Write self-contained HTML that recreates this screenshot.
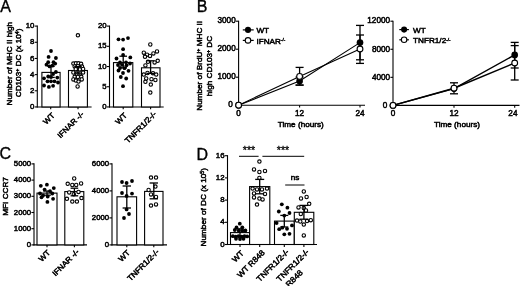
<!DOCTYPE html>
<html><head><meta charset="utf-8"><title>Figure</title>
<style>
html,body{margin:0;padding:0;background:#fff;}
svg{display:block;}
text{font-family:"Liberation Sans",Arial,sans-serif;fill:#000;stroke:#000;stroke-width:0.5px;}
</style></head>
<body>
<svg width="520" height="286" viewBox="0 0 520 286">
<rect width="520" height="286" fill="#fff"/>
<text transform="translate(0.30,11.70) scale(1,1)" font-size="16.000" text-anchor="start" style="stroke-width:0.35px">A</text>
<text transform="translate(196.80,11.70) scale(1,1)" font-size="16.000" text-anchor="start" style="stroke-width:0.35px">B</text>
<text transform="translate(-0.40,159.20) scale(1,1)" font-size="16.000" text-anchor="start" style="stroke-width:0.35px">C</text>
<text transform="translate(196.40,159.50) scale(1,1)" font-size="16.000" text-anchor="start" style="stroke-width:0.35px">D</text>
<line x1="37.30" y1="25.55" x2="37.30" y2="107.50" stroke="#000" stroke-width="1.1" />
<line x1="34.70" y1="106.95" x2="37.30" y2="106.95" stroke="#000" stroke-width="1.1" />
<text transform="translate(34.40,109.04) scale(1.0,1)" font-size="7.800" text-anchor="end" >0</text>
<line x1="34.70" y1="90.78" x2="37.30" y2="90.78" stroke="#000" stroke-width="1.1" />
<text transform="translate(34.40,92.87) scale(1.0,1)" font-size="7.800" text-anchor="end" >2</text>
<line x1="34.70" y1="74.61" x2="37.30" y2="74.61" stroke="#000" stroke-width="1.1" />
<text transform="translate(34.40,76.70) scale(1.0,1)" font-size="7.800" text-anchor="end" >4</text>
<line x1="34.70" y1="58.44" x2="37.30" y2="58.44" stroke="#000" stroke-width="1.1" />
<text transform="translate(34.40,60.53) scale(1.0,1)" font-size="7.800" text-anchor="end" >6</text>
<line x1="34.70" y1="42.27" x2="37.30" y2="42.27" stroke="#000" stroke-width="1.1" />
<text transform="translate(34.40,44.36) scale(1.0,1)" font-size="7.800" text-anchor="end" >8</text>
<line x1="34.70" y1="26.10" x2="37.30" y2="26.10" stroke="#000" stroke-width="1.1" />
<text transform="translate(34.40,28.19) scale(1.0,1)" font-size="7.800" text-anchor="end" >10</text>
<line x1="36.80" y1="106.95" x2="91.60" y2="106.95" stroke="#000" stroke-width="1.1" />
<line x1="50.70" y1="106.95" x2="50.70" y2="109.35" stroke="#000" stroke-width="1.1" />
<line x1="78.00" y1="106.95" x2="78.00" y2="109.35" stroke="#000" stroke-width="1.1" />
<rect x="41.90" y="72.40" width="18.20" height="34.55" fill="#fff" stroke="#000" stroke-width="1.1"/>
<rect x="68.50" y="70.50" width="18.90" height="36.45" fill="#fff" stroke="#000" stroke-width="1.1"/>
<circle cx="51.00" cy="51.00" r="1.9" fill="#000"/>
<circle cx="48.60" cy="56.90" r="1.9" fill="#000"/>
<circle cx="55.90" cy="58.00" r="1.9" fill="#000"/>
<circle cx="48.20" cy="62.20" r="1.9" fill="#000"/>
<circle cx="53.50" cy="62.20" r="1.9" fill="#000"/>
<circle cx="46.50" cy="64.70" r="1.9" fill="#000"/>
<circle cx="55.20" cy="63.60" r="1.9" fill="#000"/>
<circle cx="49.60" cy="66.40" r="1.9" fill="#000"/>
<circle cx="52.40" cy="65.70" r="1.9" fill="#000"/>
<circle cx="55.90" cy="72.00" r="1.9" fill="#000"/>
<circle cx="53.10" cy="74.10" r="1.9" fill="#000"/>
<circle cx="48.20" cy="76.50" r="1.9" fill="#000"/>
<circle cx="44.00" cy="78.30" r="1.9" fill="#000"/>
<circle cx="57.30" cy="77.60" r="1.9" fill="#000"/>
<circle cx="51.00" cy="77.00" r="1.9" fill="#000"/>
<circle cx="47.50" cy="81.30" r="1.9" fill="#000"/>
<circle cx="51.00" cy="81.30" r="1.9" fill="#000"/>
<circle cx="54.50" cy="81.30" r="1.9" fill="#000"/>
<circle cx="58.00" cy="82.50" r="1.9" fill="#000"/>
<circle cx="44.00" cy="85.50" r="1.9" fill="#000"/>
<circle cx="48.90" cy="86.90" r="1.9" fill="#000"/>
<circle cx="53.10" cy="85.80" r="1.9" fill="#000"/>
<circle cx="77.90" cy="35.30" r="1.7" fill="#fff" stroke="#000" stroke-width="1.1"/>
<circle cx="73.37" cy="63.60" r="1.7" fill="#fff" stroke="#000" stroke-width="1.1"/>
<circle cx="75.94" cy="63.30" r="1.7" fill="#fff" stroke="#000" stroke-width="1.1"/>
<circle cx="78.52" cy="63.30" r="1.7" fill="#fff" stroke="#000" stroke-width="1.1"/>
<circle cx="81.10" cy="63.80" r="1.7" fill="#fff" stroke="#000" stroke-width="1.1"/>
<circle cx="74.66" cy="66.40" r="1.7" fill="#fff" stroke="#000" stroke-width="1.1"/>
<circle cx="77.88" cy="66.20" r="1.7" fill="#fff" stroke="#000" stroke-width="1.1"/>
<circle cx="82.02" cy="66.60" r="1.7" fill="#fff" stroke="#000" stroke-width="1.1"/>
<circle cx="75.76" cy="69.20" r="1.7" fill="#fff" stroke="#000" stroke-width="1.1"/>
<circle cx="79.81" cy="69.40" r="1.7" fill="#fff" stroke="#000" stroke-width="1.1"/>
<circle cx="83.12" cy="69.00" r="1.7" fill="#fff" stroke="#000" stroke-width="1.1"/>
<circle cx="73.37" cy="72.50" r="1.7" fill="#fff" stroke="#000" stroke-width="1.1"/>
<circle cx="76.59" cy="73.60" r="1.7" fill="#fff" stroke="#000" stroke-width="1.1"/>
<circle cx="80.36" cy="73.40" r="1.7" fill="#fff" stroke="#000" stroke-width="1.1"/>
<circle cx="83.12" cy="72.60" r="1.7" fill="#fff" stroke="#000" stroke-width="1.1"/>
<circle cx="74.66" cy="76.80" r="1.7" fill="#fff" stroke="#000" stroke-width="1.1"/>
<circle cx="77.88" cy="77.00" r="1.7" fill="#fff" stroke="#000" stroke-width="1.1"/>
<circle cx="81.28" cy="76.80" r="1.7" fill="#fff" stroke="#000" stroke-width="1.1"/>
<circle cx="73.37" cy="79.40" r="1.7" fill="#fff" stroke="#000" stroke-width="1.1"/>
<circle cx="75.94" cy="80.60" r="1.7" fill="#fff" stroke="#000" stroke-width="1.1"/>
<circle cx="78.52" cy="81.60" r="1.7" fill="#fff" stroke="#000" stroke-width="1.1"/>
<circle cx="81.74" cy="79.40" r="1.7" fill="#fff" stroke="#000" stroke-width="1.1"/>
<circle cx="77.60" cy="86.50" r="1.7" fill="#fff" stroke="#000" stroke-width="1.1"/>
<line x1="51.00" y1="66.20" x2="51.00" y2="77.40" stroke="#000" stroke-width="1.3" />
<line x1="47.20" y1="66.20" x2="54.80" y2="66.20" stroke="#000" stroke-width="1.3" />
<line x1="47.20" y1="77.40" x2="54.80" y2="77.40" stroke="#000" stroke-width="1.3" />
<line x1="78.00" y1="66.60" x2="78.00" y2="73.20" stroke="#000" stroke-width="1.3" />
<line x1="74.20" y1="66.60" x2="81.80" y2="66.60" stroke="#000" stroke-width="1.3" />
<line x1="74.20" y1="73.20" x2="81.80" y2="73.20" stroke="#000" stroke-width="1.3" />
<text transform="translate(55.20,115.90) rotate(-45) scale(1.055,1)" font-size="7.820" text-anchor="end">WT</text>
<text transform="translate(84.40,114.60) rotate(-45) scale(1.055,1)" font-size="7.583" text-anchor="end">IFNAR -/-</text>
<text transform="translate(11.8,63.65) rotate(-90) scale(1.055,1)" font-size="7.773" text-anchor="middle">Number of MHC II high</text>
<text transform="translate(21.1,62.9) rotate(-90) scale(1.055,1)" font-size="7.773" text-anchor="middle">CD103<tspan font-size="5.0" dy="-2.3">+</tspan><tspan dy="2.3" font-size="1">&#8203;</tspan> DC (x 10<tspan font-size="5.0" dy="-2.3">4</tspan><tspan dy="2.3" font-size="1">&#8203;</tspan>)</text>
<line x1="109.50" y1="25.55" x2="109.50" y2="107.50" stroke="#000" stroke-width="1.1" />
<line x1="106.90" y1="106.95" x2="109.50" y2="106.95" stroke="#000" stroke-width="1.1" />
<text transform="translate(106.60,109.04) scale(1.0,1)" font-size="7.800" text-anchor="end" >0</text>
<line x1="106.90" y1="86.74" x2="109.50" y2="86.74" stroke="#000" stroke-width="1.1" />
<text transform="translate(106.60,88.83) scale(1.0,1)" font-size="7.800" text-anchor="end" >5</text>
<line x1="106.90" y1="66.53" x2="109.50" y2="66.53" stroke="#000" stroke-width="1.1" />
<text transform="translate(106.60,68.62) scale(1.0,1)" font-size="7.800" text-anchor="end" >10</text>
<line x1="106.90" y1="46.31" x2="109.50" y2="46.31" stroke="#000" stroke-width="1.1" />
<text transform="translate(106.60,48.40) scale(1.0,1)" font-size="7.800" text-anchor="end" >15</text>
<line x1="106.90" y1="26.10" x2="109.50" y2="26.10" stroke="#000" stroke-width="1.1" />
<text transform="translate(106.60,28.19) scale(1.0,1)" font-size="7.800" text-anchor="end" >20</text>
<line x1="109.00" y1="106.95" x2="163.70" y2="106.95" stroke="#000" stroke-width="1.1" />
<line x1="123.20" y1="106.95" x2="123.20" y2="109.35" stroke="#000" stroke-width="1.1" />
<line x1="150.60" y1="106.95" x2="150.60" y2="109.35" stroke="#000" stroke-width="1.1" />
<rect x="113.50" y="62.60" width="19.30" height="44.35" fill="#fff" stroke="#000" stroke-width="1.1"/>
<rect x="141.50" y="67.80" width="18.50" height="39.15" fill="#fff" stroke="#000" stroke-width="1.1"/>
<circle cx="118.50" cy="39.30" r="1.9" fill="#000"/>
<circle cx="123.10" cy="39.60" r="1.9" fill="#000"/>
<circle cx="128.00" cy="38.10" r="1.9" fill="#000"/>
<circle cx="123.10" cy="49.20" r="1.9" fill="#000"/>
<circle cx="116.50" cy="58.50" r="1.9" fill="#000"/>
<circle cx="130.30" cy="57.40" r="1.9" fill="#000"/>
<circle cx="123.10" cy="55.00" r="1.9" fill="#000"/>
<circle cx="120.00" cy="62.50" r="1.9" fill="#000"/>
<circle cx="126.00" cy="62.30" r="1.9" fill="#000"/>
<circle cx="118.00" cy="65.00" r="1.9" fill="#000"/>
<circle cx="122.00" cy="64.80" r="1.9" fill="#000"/>
<circle cx="126.50" cy="65.30" r="1.9" fill="#000"/>
<circle cx="130.00" cy="63.50" r="1.9" fill="#000"/>
<circle cx="120.00" cy="68.00" r="1.9" fill="#000"/>
<circle cx="124.50" cy="68.20" r="1.9" fill="#000"/>
<circle cx="118.50" cy="70.50" r="1.9" fill="#000"/>
<circle cx="128.50" cy="70.80" r="1.9" fill="#000"/>
<circle cx="123.00" cy="73.00" r="1.9" fill="#000"/>
<circle cx="120.80" cy="77.00" r="1.9" fill="#000"/>
<circle cx="126.20" cy="78.50" r="1.9" fill="#000"/>
<circle cx="123.00" cy="86.20" r="1.9" fill="#000"/>
<circle cx="150.30" cy="44.50" r="1.7" fill="#fff" stroke="#000" stroke-width="1.1"/>
<circle cx="143.80" cy="52.70" r="1.7" fill="#fff" stroke="#000" stroke-width="1.1"/>
<circle cx="157.00" cy="51.40" r="1.7" fill="#fff" stroke="#000" stroke-width="1.1"/>
<circle cx="147.00" cy="54.70" r="1.7" fill="#fff" stroke="#000" stroke-width="1.1"/>
<circle cx="153.40" cy="53.40" r="1.7" fill="#fff" stroke="#000" stroke-width="1.1"/>
<circle cx="150.00" cy="55.90" r="1.7" fill="#fff" stroke="#000" stroke-width="1.1"/>
<circle cx="145.00" cy="56.80" r="1.7" fill="#fff" stroke="#000" stroke-width="1.1"/>
<circle cx="157.70" cy="60.80" r="1.7" fill="#fff" stroke="#000" stroke-width="1.1"/>
<circle cx="154.60" cy="62.40" r="1.7" fill="#fff" stroke="#000" stroke-width="1.1"/>
<circle cx="145.40" cy="65.40" r="1.7" fill="#fff" stroke="#000" stroke-width="1.1"/>
<circle cx="148.00" cy="61.80" r="1.7" fill="#fff" stroke="#000" stroke-width="1.1"/>
<circle cx="143.80" cy="74.60" r="1.7" fill="#fff" stroke="#000" stroke-width="1.1"/>
<circle cx="156.20" cy="74.60" r="1.7" fill="#fff" stroke="#000" stroke-width="1.1"/>
<circle cx="147.50" cy="73.00" r="1.7" fill="#fff" stroke="#000" stroke-width="1.1"/>
<circle cx="153.00" cy="73.20" r="1.7" fill="#fff" stroke="#000" stroke-width="1.1"/>
<circle cx="146.20" cy="78.50" r="1.7" fill="#fff" stroke="#000" stroke-width="1.1"/>
<circle cx="151.50" cy="79.20" r="1.7" fill="#fff" stroke="#000" stroke-width="1.1"/>
<circle cx="155.40" cy="80.00" r="1.7" fill="#fff" stroke="#000" stroke-width="1.1"/>
<circle cx="145.40" cy="81.80" r="1.7" fill="#fff" stroke="#000" stroke-width="1.1"/>
<circle cx="150.80" cy="84.60" r="1.7" fill="#fff" stroke="#000" stroke-width="1.1"/>
<circle cx="150.30" cy="92.60" r="1.7" fill="#fff" stroke="#000" stroke-width="1.1"/>
<line x1="123.20" y1="56.20" x2="123.20" y2="67.80" stroke="#000" stroke-width="1.3" />
<line x1="119.40" y1="56.20" x2="127.00" y2="56.20" stroke="#000" stroke-width="1.3" />
<line x1="119.40" y1="67.80" x2="127.00" y2="67.80" stroke="#000" stroke-width="1.3" />
<line x1="150.60" y1="60.80" x2="150.60" y2="73.40" stroke="#000" stroke-width="1.3" />
<line x1="146.80" y1="60.80" x2="154.40" y2="60.80" stroke="#000" stroke-width="1.3" />
<line x1="146.80" y1="73.40" x2="154.40" y2="73.40" stroke="#000" stroke-width="1.3" />
<text transform="translate(127.60,115.90) rotate(-45) scale(1.055,1)" font-size="7.820" text-anchor="end">WT</text>
<text transform="translate(157.00,114.60) rotate(-45) scale(1.055,1)" font-size="7.820" text-anchor="end">TNFR1/2-/-</text>
<line x1="238.60" y1="20.65" x2="238.60" y2="105.75" stroke="#000" stroke-width="1.1" />
<line x1="236.00" y1="105.20" x2="238.60" y2="105.20" stroke="#000" stroke-width="1.1" />
<text transform="translate(232.90,107.44) scale(1.0,1)" font-size="8.200" text-anchor="end" >0</text>
<line x1="236.00" y1="77.20" x2="238.60" y2="77.20" stroke="#000" stroke-width="1.1" />
<text transform="translate(235.70,79.44) scale(1.0,1)" font-size="8.200" text-anchor="end" >1000</text>
<line x1="236.00" y1="49.20" x2="238.60" y2="49.20" stroke="#000" stroke-width="1.1" />
<text transform="translate(235.70,51.44) scale(1.0,1)" font-size="8.200" text-anchor="end" >2000</text>
<line x1="236.00" y1="21.20" x2="238.60" y2="21.20" stroke="#000" stroke-width="1.1" />
<text transform="translate(235.70,23.44) scale(1.0,1)" font-size="8.200" text-anchor="end" >3000</text>
<line x1="238.10" y1="105.20" x2="365.00" y2="105.20" stroke="#000" stroke-width="1.1" />
<line x1="299.60" y1="105.20" x2="299.60" y2="107.60" stroke="#000" stroke-width="1.1" />
<line x1="360.00" y1="105.20" x2="360.00" y2="107.60" stroke="#000" stroke-width="1.1" />
<text transform="translate(238.60,116.30) scale(1.0,1)" font-size="8.200" text-anchor="middle" >0</text>
<text transform="translate(299.60,116.30) scale(1.0,1)" font-size="8.200" text-anchor="middle" >12</text>
<text transform="translate(360.00,116.30) scale(1.0,1)" font-size="8.200" text-anchor="middle" >24</text>
<text transform="translate(300.80,127.20) scale(1.055,1)" font-size="7.773" text-anchor="middle" >Time (hours)</text>
<line x1="360.00" y1="25.40" x2="360.00" y2="59.80" stroke="#000" stroke-width="1.3" />
<line x1="356.00" y1="25.40" x2="364.00" y2="25.40" stroke="#000" stroke-width="1.3" />
<line x1="356.00" y1="59.80" x2="364.00" y2="59.80" stroke="#000" stroke-width="1.3" />
<line x1="360.00" y1="35.00" x2="360.00" y2="63.40" stroke="#000" stroke-width="1.3" />
<line x1="356.00" y1="35.00" x2="364.00" y2="35.00" stroke="#000" stroke-width="1.3" />
<line x1="356.00" y1="63.40" x2="364.00" y2="63.40" stroke="#000" stroke-width="1.3" />
<line x1="299.60" y1="67.40" x2="299.60" y2="85.20" stroke="#000" stroke-width="1.3" />
<line x1="295.60" y1="67.40" x2="303.60" y2="67.40" stroke="#000" stroke-width="1.3" />
<line x1="295.60" y1="85.20" x2="303.60" y2="85.20" stroke="#000" stroke-width="1.3" />
<line x1="299.60" y1="77.00" x2="299.60" y2="85.00" stroke="#000" stroke-width="1.3" />
<line x1="295.60" y1="77.00" x2="303.60" y2="77.00" stroke="#000" stroke-width="1.3" />
<line x1="295.60" y1="85.00" x2="303.60" y2="85.00" stroke="#000" stroke-width="1.3" />
<polyline points="238.6,105.2 299.6,81 360,42.6" fill="none" stroke="#000" stroke-width="1.1"/>
<polyline points="238.6,105.2 299.6,76.4 360,49" fill="none" stroke="#000" stroke-width="1.1"/>
<circle cx="238.6" cy="105.2" r="3.35" fill="#000"/>
<circle cx="299.6" cy="81" r="3.35" fill="#000"/>
<circle cx="360" cy="42.6" r="3.35" fill="#000"/>
<circle cx="238.6" cy="105.2" r="2.9" fill="#fff" stroke="#000" stroke-width="1.1"/>
<circle cx="299.6" cy="76.4" r="2.9" fill="#fff" stroke="#000" stroke-width="1.1"/>
<circle cx="360" cy="49" r="2.9" fill="#fff" stroke="#000" stroke-width="1.1"/>
<line x1="242.80" y1="29.90" x2="253.70" y2="29.90" stroke="#000" stroke-width="1.2" />
<circle cx="248" cy="29.9" r="3.05" fill="#000"/>
<line x1="242.80" y1="40.40" x2="253.70" y2="40.40" stroke="#000" stroke-width="1.2" />
<circle cx="248" cy="40.4" r="2.75" fill="#fff" stroke="#000" stroke-width="1.1"/>
<text transform="translate(256.40,32.90) scale(1.055,1)" font-size="7.773" text-anchor="start" >WT</text>
<text transform="translate(256.40,43.50) scale(1.055,1)" font-size="7.773" text-anchor="start" >IFNAR<tspan font-size="4.3" dy="-2.3">-/-</tspan><tspan dy="2.3" font-size="1">&#8203;</tspan></text>
<text transform="translate(201.9,65.8) rotate(-90) scale(1.055,1)" font-size="7.773" text-anchor="middle">Number of BrdU<tspan font-size="5.0" dy="-2.3">+</tspan><tspan dy="2.3" font-size="1">&#8203;</tspan> MHC II</text>
<text transform="translate(212.2,66.0) rotate(-90) scale(1.055,1)" font-size="7.773" text-anchor="middle">high CD103<tspan font-size="5.0" dy="-2.3">+</tspan><tspan dy="2.3" font-size="1">&#8203;</tspan> DC</text>
<line x1="393.00" y1="20.65" x2="393.00" y2="105.95" stroke="#000" stroke-width="1.1" />
<line x1="390.40" y1="105.40" x2="393.00" y2="105.40" stroke="#000" stroke-width="1.1" />
<text transform="translate(387.30,107.64) scale(1.0,1)" font-size="8.200" text-anchor="end" >0</text>
<line x1="390.40" y1="77.33" x2="393.00" y2="77.33" stroke="#000" stroke-width="1.1" />
<text transform="translate(390.10,79.57) scale(1.0,1)" font-size="8.200" text-anchor="end" >4000</text>
<line x1="390.40" y1="49.27" x2="393.00" y2="49.27" stroke="#000" stroke-width="1.1" />
<text transform="translate(390.10,51.50) scale(1.0,1)" font-size="8.200" text-anchor="end" >8000</text>
<line x1="390.40" y1="21.20" x2="393.00" y2="21.20" stroke="#000" stroke-width="1.1" />
<text transform="translate(390.10,23.44) scale(1.0,1)" font-size="8.200" text-anchor="end" >12000</text>
<line x1="392.50" y1="105.40" x2="519.50" y2="105.40" stroke="#000" stroke-width="1.1" />
<line x1="454.00" y1="105.40" x2="454.00" y2="107.80" stroke="#000" stroke-width="1.1" />
<line x1="514.70" y1="105.40" x2="514.70" y2="107.80" stroke="#000" stroke-width="1.1" />
<text transform="translate(393.00,116.30) scale(1.0,1)" font-size="8.200" text-anchor="middle" >0</text>
<text transform="translate(454.00,116.30) scale(1.0,1)" font-size="8.200" text-anchor="middle" >12</text>
<text transform="translate(512.90,116.30) scale(1.0,1)" font-size="8.200" text-anchor="middle" >24</text>
<text transform="translate(457.00,127.20) scale(1.055,1)" font-size="7.773" text-anchor="middle" >Time (hours)</text>
<line x1="514.70" y1="42.40" x2="514.70" y2="68.00" stroke="#000" stroke-width="1.3" />
<line x1="510.70" y1="42.40" x2="518.70" y2="42.40" stroke="#000" stroke-width="1.3" />
<line x1="510.70" y1="68.00" x2="518.70" y2="68.00" stroke="#000" stroke-width="1.3" />
<line x1="514.70" y1="45.60" x2="514.70" y2="80.00" stroke="#000" stroke-width="1.3" />
<line x1="510.70" y1="45.60" x2="518.70" y2="45.60" stroke="#000" stroke-width="1.3" />
<line x1="510.70" y1="80.00" x2="518.70" y2="80.00" stroke="#000" stroke-width="1.3" />
<line x1="454.00" y1="82.80" x2="454.00" y2="93.80" stroke="#000" stroke-width="1.3" />
<line x1="450.00" y1="82.80" x2="458.00" y2="82.80" stroke="#000" stroke-width="1.3" />
<line x1="450.00" y1="93.80" x2="458.00" y2="93.80" stroke="#000" stroke-width="1.3" />
<polyline points="393,105.4 454,88.6 514.7,54.9" fill="none" stroke="#000" stroke-width="1.5"/>
<polyline points="393,105.4 454,88.2 514.7,63.0" fill="none" stroke="#000" stroke-width="1.5"/>
<circle cx="393" cy="105.4" r="3.35" fill="#000"/>
<circle cx="454" cy="88.6" r="3.35" fill="#000"/>
<circle cx="514.7" cy="54.9" r="3.35" fill="#000"/>
<circle cx="393" cy="105.4" r="2.9" fill="#fff" stroke="#000" stroke-width="1.1"/>
<circle cx="454" cy="88.2" r="2.9" fill="#fff" stroke="#000" stroke-width="1.1"/>
<circle cx="514.7" cy="63.0" r="2.9" fill="#fff" stroke="#000" stroke-width="1.1"/>
<line x1="399.30" y1="29.60" x2="408.90" y2="29.60" stroke="#000" stroke-width="1.2" />
<circle cx="404.1" cy="29.6" r="3.05" fill="#000"/>
<line x1="399.30" y1="39.80" x2="408.90" y2="39.80" stroke="#000" stroke-width="1.2" />
<circle cx="404.1" cy="39.8" r="2.75" fill="#fff" stroke="#000" stroke-width="1.1"/>
<text transform="translate(413.00,32.60) scale(1.055,1)" font-size="7.773" text-anchor="start" >WT</text>
<text transform="translate(413.00,43.00) scale(1.055,1)" font-size="7.773" text-anchor="start" >TNFR1/2<tspan font-size="4.3" dy="-2.3">-/-</tspan><tspan dy="2.3" font-size="1">&#8203;</tspan></text>
<line x1="34.00" y1="163.35" x2="34.00" y2="245.45" stroke="#000" stroke-width="1.1" />
<line x1="31.40" y1="244.90" x2="34.00" y2="244.90" stroke="#000" stroke-width="1.1" />
<text transform="translate(31.10,246.97) scale(1.0,1)" font-size="7.750" text-anchor="end" >0</text>
<line x1="31.40" y1="228.70" x2="34.00" y2="228.70" stroke="#000" stroke-width="1.1" />
<text transform="translate(31.10,230.77) scale(1.0,1)" font-size="7.750" text-anchor="end" >1000</text>
<line x1="31.40" y1="212.50" x2="34.00" y2="212.50" stroke="#000" stroke-width="1.1" />
<text transform="translate(31.10,214.57) scale(1.0,1)" font-size="7.750" text-anchor="end" >2000</text>
<line x1="31.40" y1="196.30" x2="34.00" y2="196.30" stroke="#000" stroke-width="1.1" />
<text transform="translate(31.10,198.37) scale(1.0,1)" font-size="7.750" text-anchor="end" >3000</text>
<line x1="31.40" y1="180.10" x2="34.00" y2="180.10" stroke="#000" stroke-width="1.1" />
<text transform="translate(31.10,182.17) scale(1.0,1)" font-size="7.750" text-anchor="end" >4000</text>
<line x1="31.40" y1="163.90" x2="34.00" y2="163.90" stroke="#000" stroke-width="1.1" />
<text transform="translate(31.10,165.97) scale(1.0,1)" font-size="7.750" text-anchor="end" >5000</text>
<line x1="33.50" y1="244.90" x2="87.00" y2="244.90" stroke="#000" stroke-width="1.1" />
<line x1="47.00" y1="244.90" x2="47.00" y2="247.30" stroke="#000" stroke-width="1.1" />
<line x1="74.40" y1="244.90" x2="74.40" y2="247.30" stroke="#000" stroke-width="1.1" />
<rect x="37.00" y="193.10" width="20.00" height="51.80" fill="#fff" stroke="#000" stroke-width="1.1"/>
<rect x="64.80" y="191.60" width="19.00" height="53.30" fill="#fff" stroke="#000" stroke-width="1.1"/>
<circle cx="40.80" cy="185.80" r="1.9" fill="#000"/>
<circle cx="46.90" cy="184.70" r="1.9" fill="#000"/>
<circle cx="53.80" cy="188.10" r="1.9" fill="#000"/>
<circle cx="44.60" cy="189.60" r="1.9" fill="#000"/>
<circle cx="50.00" cy="191.20" r="1.9" fill="#000"/>
<circle cx="40.00" cy="193.50" r="1.9" fill="#000"/>
<circle cx="43.00" cy="195.50" r="1.9" fill="#000"/>
<circle cx="52.30" cy="193.50" r="1.9" fill="#000"/>
<circle cx="41.50" cy="197.30" r="1.9" fill="#000"/>
<circle cx="47.70" cy="196.50" r="1.9" fill="#000"/>
<circle cx="53.10" cy="198.80" r="1.9" fill="#000"/>
<circle cx="47.40" cy="201.90" r="1.9" fill="#000"/>
<circle cx="74.20" cy="178.50" r="1.7" fill="#fff" stroke="#000" stroke-width="1.1"/>
<circle cx="67.70" cy="183.80" r="1.7" fill="#fff" stroke="#000" stroke-width="1.1"/>
<circle cx="72.30" cy="185.00" r="1.7" fill="#fff" stroke="#000" stroke-width="1.1"/>
<circle cx="76.20" cy="185.00" r="1.7" fill="#fff" stroke="#000" stroke-width="1.1"/>
<circle cx="81.10" cy="183.50" r="1.7" fill="#fff" stroke="#000" stroke-width="1.1"/>
<circle cx="69.20" cy="192.40" r="1.7" fill="#fff" stroke="#000" stroke-width="1.1"/>
<circle cx="78.50" cy="191.90" r="1.7" fill="#fff" stroke="#000" stroke-width="1.1"/>
<circle cx="73.80" cy="194.20" r="1.7" fill="#fff" stroke="#000" stroke-width="1.1"/>
<circle cx="66.90" cy="198.80" r="1.7" fill="#fff" stroke="#000" stroke-width="1.1"/>
<circle cx="81.50" cy="198.10" r="1.7" fill="#fff" stroke="#000" stroke-width="1.1"/>
<circle cx="72.30" cy="201.60" r="1.7" fill="#fff" stroke="#000" stroke-width="1.1"/>
<circle cx="76.90" cy="201.60" r="1.7" fill="#fff" stroke="#000" stroke-width="1.1"/>
<line x1="47.00" y1="191.00" x2="47.00" y2="195.20" stroke="#000" stroke-width="1.3" />
<line x1="43.20" y1="191.00" x2="50.80" y2="191.00" stroke="#000" stroke-width="1.3" />
<line x1="43.20" y1="195.20" x2="50.80" y2="195.20" stroke="#000" stroke-width="1.3" />
<line x1="74.40" y1="188.20" x2="74.40" y2="195.80" stroke="#000" stroke-width="1.3" />
<line x1="70.60" y1="188.20" x2="78.20" y2="188.20" stroke="#000" stroke-width="1.3" />
<line x1="70.60" y1="195.80" x2="78.20" y2="195.80" stroke="#000" stroke-width="1.3" />
<text transform="translate(50.80,253.20) rotate(-45) scale(1.055,1)" font-size="7.820" text-anchor="end">WT</text>
<text transform="translate(79.60,252.40) rotate(-45) scale(1.055,1)" font-size="7.678" text-anchor="end">IFNAR -/-</text>
<text transform="translate(7.8,196.4) rotate(-90) scale(1.055,1)" font-size="7.773" text-anchor="middle">MFI CCR7</text>
<line x1="112.00" y1="163.35" x2="112.00" y2="245.45" stroke="#000" stroke-width="1.1" />
<line x1="109.40" y1="244.90" x2="112.00" y2="244.90" stroke="#000" stroke-width="1.1" />
<text transform="translate(109.10,246.97) scale(1.0,1)" font-size="7.750" text-anchor="end" >0</text>
<line x1="109.40" y1="217.90" x2="112.00" y2="217.90" stroke="#000" stroke-width="1.1" />
<text transform="translate(109.10,219.97) scale(1.0,1)" font-size="7.750" text-anchor="end" >2000</text>
<line x1="109.40" y1="190.90" x2="112.00" y2="190.90" stroke="#000" stroke-width="1.1" />
<text transform="translate(109.10,192.97) scale(1.0,1)" font-size="7.750" text-anchor="end" >4000</text>
<line x1="109.40" y1="163.90" x2="112.00" y2="163.90" stroke="#000" stroke-width="1.1" />
<text transform="translate(109.10,165.97) scale(1.0,1)" font-size="7.750" text-anchor="end" >6000</text>
<line x1="111.50" y1="244.90" x2="167.00" y2="244.90" stroke="#000" stroke-width="1.1" />
<line x1="126.80" y1="244.90" x2="126.80" y2="247.30" stroke="#000" stroke-width="1.1" />
<line x1="153.80" y1="244.90" x2="153.80" y2="247.30" stroke="#000" stroke-width="1.1" />
<rect x="117.00" y="196.80" width="19.60" height="48.10" fill="#fff" stroke="#000" stroke-width="1.1"/>
<rect x="144.60" y="191.40" width="18.40" height="53.50" fill="#fff" stroke="#000" stroke-width="1.1"/>
<circle cx="122.00" cy="182.00" r="1.9" fill="#000"/>
<circle cx="126.60" cy="183.00" r="1.9" fill="#000"/>
<circle cx="132.00" cy="181.00" r="1.9" fill="#000"/>
<circle cx="122.00" cy="193.00" r="1.9" fill="#000"/>
<circle cx="132.00" cy="193.60" r="1.9" fill="#000"/>
<circle cx="126.60" cy="196.00" r="1.9" fill="#000"/>
<circle cx="126.60" cy="209.40" r="1.9" fill="#000"/>
<circle cx="129.00" cy="214.00" r="1.9" fill="#000"/>
<circle cx="124.00" cy="218.00" r="1.9" fill="#000"/>
<circle cx="151.00" cy="177.60" r="1.7" fill="#fff" stroke="#000" stroke-width="1.1"/>
<circle cx="156.00" cy="177.60" r="1.7" fill="#fff" stroke="#000" stroke-width="1.1"/>
<circle cx="148.60" cy="190.00" r="1.7" fill="#fff" stroke="#000" stroke-width="1.1"/>
<circle cx="155.40" cy="186.60" r="1.7" fill="#fff" stroke="#000" stroke-width="1.1"/>
<circle cx="151.00" cy="194.40" r="1.7" fill="#fff" stroke="#000" stroke-width="1.1"/>
<circle cx="156.00" cy="197.00" r="1.7" fill="#fff" stroke="#000" stroke-width="1.1"/>
<circle cx="151.00" cy="205.60" r="1.7" fill="#fff" stroke="#000" stroke-width="1.1"/>
<circle cx="156.00" cy="204.40" r="1.7" fill="#fff" stroke="#000" stroke-width="1.1"/>
<line x1="126.80" y1="186.00" x2="126.80" y2="208.00" stroke="#000" stroke-width="1.3" />
<line x1="122.60" y1="186.00" x2="131.00" y2="186.00" stroke="#000" stroke-width="1.3" />
<line x1="122.60" y1="208.00" x2="131.00" y2="208.00" stroke="#000" stroke-width="1.3" />
<line x1="153.80" y1="183.00" x2="153.80" y2="198.80" stroke="#000" stroke-width="1.3" />
<line x1="149.60" y1="183.00" x2="158.00" y2="183.00" stroke="#000" stroke-width="1.3" />
<line x1="149.60" y1="198.80" x2="158.00" y2="198.80" stroke="#000" stroke-width="1.3" />
<text transform="translate(130.60,253.20) rotate(-45) scale(1.055,1)" font-size="7.820" text-anchor="end">WT</text>
<text transform="translate(159.60,252.40) rotate(-45) scale(1.055,1)" font-size="7.820" text-anchor="end">TNFR1/2-/-</text>
<line x1="227.50" y1="155.15" x2="227.50" y2="245.05" stroke="#000" stroke-width="1.1" />
<line x1="224.90" y1="244.50" x2="227.50" y2="244.50" stroke="#000" stroke-width="1.1" />
<text transform="translate(224.60,246.63) scale(1.0,1)" font-size="7.900" text-anchor="end" >0</text>
<line x1="224.90" y1="222.30" x2="227.50" y2="222.30" stroke="#000" stroke-width="1.1" />
<text transform="translate(224.60,224.43) scale(1.0,1)" font-size="7.900" text-anchor="end" >4</text>
<line x1="224.90" y1="200.10" x2="227.50" y2="200.10" stroke="#000" stroke-width="1.1" />
<text transform="translate(224.60,202.23) scale(1.0,1)" font-size="7.900" text-anchor="end" >8</text>
<line x1="224.90" y1="177.90" x2="227.50" y2="177.90" stroke="#000" stroke-width="1.1" />
<text transform="translate(224.60,180.03) scale(1.0,1)" font-size="7.900" text-anchor="end" >12</text>
<line x1="224.90" y1="155.70" x2="227.50" y2="155.70" stroke="#000" stroke-width="1.1" />
<text transform="translate(224.60,157.83) scale(1.0,1)" font-size="7.900" text-anchor="end" >16</text>
<line x1="227.00" y1="244.50" x2="317.00" y2="244.50" stroke="#000" stroke-width="1.1" />
<line x1="240.00" y1="244.50" x2="240.00" y2="246.90" stroke="#000" stroke-width="1.1" />
<line x1="259.70" y1="244.50" x2="259.70" y2="246.90" stroke="#000" stroke-width="1.1" />
<line x1="284.30" y1="244.50" x2="284.30" y2="246.90" stroke="#000" stroke-width="1.1" />
<line x1="303.90" y1="244.50" x2="303.90" y2="246.90" stroke="#000" stroke-width="1.1" />
<rect x="230.50" y="232.60" width="19.10" height="11.90" fill="#fff" stroke="#000" stroke-width="1.1"/>
<rect x="249.60" y="186.60" width="20.20" height="57.90" fill="#fff" stroke="#000" stroke-width="1.1"/>
<rect x="274.50" y="221.10" width="19.80" height="23.40" fill="#fff" stroke="#000" stroke-width="1.1"/>
<rect x="294.30" y="212.30" width="19.50" height="32.20" fill="#fff" stroke="#000" stroke-width="1.1"/>
<circle cx="239.80" cy="223.70" r="1.9" fill="#000"/>
<circle cx="236.50" cy="227.50" r="1.9" fill="#000"/>
<circle cx="242.30" cy="227.30" r="1.9" fill="#000"/>
<circle cx="234.80" cy="230.00" r="1.9" fill="#000"/>
<circle cx="238.70" cy="230.60" r="1.9" fill="#000"/>
<circle cx="242.40" cy="230.60" r="1.9" fill="#000"/>
<circle cx="245.40" cy="230.40" r="1.9" fill="#000"/>
<circle cx="232.80" cy="236.20" r="1.9" fill="#000"/>
<circle cx="235.60" cy="236.60" r="1.9" fill="#000"/>
<circle cx="238.50" cy="236.20" r="1.9" fill="#000"/>
<circle cx="241.50" cy="236.60" r="1.9" fill="#000"/>
<circle cx="244.50" cy="236.20" r="1.9" fill="#000"/>
<circle cx="247.20" cy="236.40" r="1.9" fill="#000"/>
<circle cx="236.00" cy="238.80" r="1.9" fill="#000"/>
<circle cx="240.00" cy="239.00" r="1.9" fill="#000"/>
<circle cx="243.50" cy="238.80" r="1.9" fill="#000"/>
<circle cx="259.40" cy="161.60" r="1.7" fill="#fff" stroke="#000" stroke-width="1.1"/>
<circle cx="254.00" cy="169.40" r="1.7" fill="#fff" stroke="#000" stroke-width="1.1"/>
<circle cx="259.40" cy="172.00" r="1.7" fill="#fff" stroke="#000" stroke-width="1.1"/>
<circle cx="265.00" cy="171.00" r="1.7" fill="#fff" stroke="#000" stroke-width="1.1"/>
<circle cx="259.40" cy="178.00" r="1.7" fill="#fff" stroke="#000" stroke-width="1.1"/>
<circle cx="252.60" cy="188.60" r="1.7" fill="#fff" stroke="#000" stroke-width="1.1"/>
<circle cx="257.00" cy="189.40" r="1.7" fill="#fff" stroke="#000" stroke-width="1.1"/>
<circle cx="262.00" cy="189.40" r="1.7" fill="#fff" stroke="#000" stroke-width="1.1"/>
<circle cx="267.00" cy="188.60" r="1.7" fill="#fff" stroke="#000" stroke-width="1.1"/>
<circle cx="254.00" cy="193.40" r="1.7" fill="#fff" stroke="#000" stroke-width="1.1"/>
<circle cx="265.00" cy="194.00" r="1.7" fill="#fff" stroke="#000" stroke-width="1.1"/>
<circle cx="254.00" cy="197.40" r="1.7" fill="#fff" stroke="#000" stroke-width="1.1"/>
<circle cx="259.40" cy="198.60" r="1.7" fill="#fff" stroke="#000" stroke-width="1.1"/>
<circle cx="262.60" cy="199.40" r="1.7" fill="#fff" stroke="#000" stroke-width="1.1"/>
<circle cx="257.00" cy="204.60" r="1.7" fill="#fff" stroke="#000" stroke-width="1.1"/>
<circle cx="281.80" cy="204.30" r="1.9" fill="#000"/>
<circle cx="287.40" cy="207.70" r="1.9" fill="#000"/>
<circle cx="278.80" cy="211.50" r="1.9" fill="#000"/>
<circle cx="289.50" cy="213.00" r="1.9" fill="#000"/>
<circle cx="284.30" cy="215.60" r="1.9" fill="#000"/>
<circle cx="276.60" cy="223.00" r="1.9" fill="#000"/>
<circle cx="292.00" cy="225.40" r="1.9" fill="#000"/>
<circle cx="279.20" cy="229.20" r="1.9" fill="#000"/>
<circle cx="282.30" cy="227.70" r="1.9" fill="#000"/>
<circle cx="287.00" cy="228.80" r="1.9" fill="#000"/>
<circle cx="284.30" cy="234.30" r="1.9" fill="#000"/>
<circle cx="289.50" cy="233.80" r="1.9" fill="#000"/>
<circle cx="303.80" cy="191.50" r="1.7" fill="#fff" stroke="#000" stroke-width="1.1"/>
<circle cx="301.00" cy="198.50" r="1.7" fill="#fff" stroke="#000" stroke-width="1.1"/>
<circle cx="306.60" cy="197.00" r="1.7" fill="#fff" stroke="#000" stroke-width="1.1"/>
<circle cx="309.20" cy="203.80" r="1.7" fill="#fff" stroke="#000" stroke-width="1.1"/>
<circle cx="298.50" cy="207.40" r="1.7" fill="#fff" stroke="#000" stroke-width="1.1"/>
<circle cx="303.80" cy="208.00" r="1.7" fill="#fff" stroke="#000" stroke-width="1.1"/>
<circle cx="306.00" cy="210.50" r="1.7" fill="#fff" stroke="#000" stroke-width="1.1"/>
<circle cx="300.80" cy="214.00" r="1.7" fill="#fff" stroke="#000" stroke-width="1.1"/>
<circle cx="297.00" cy="220.60" r="1.7" fill="#fff" stroke="#000" stroke-width="1.1"/>
<circle cx="300.30" cy="221.50" r="1.7" fill="#fff" stroke="#000" stroke-width="1.1"/>
<circle cx="307.00" cy="221.10" r="1.7" fill="#fff" stroke="#000" stroke-width="1.1"/>
<circle cx="310.80" cy="220.20" r="1.7" fill="#fff" stroke="#000" stroke-width="1.1"/>
<circle cx="303.80" cy="224.60" r="1.7" fill="#fff" stroke="#000" stroke-width="1.1"/>
<circle cx="303.80" cy="235.40" r="1.7" fill="#fff" stroke="#000" stroke-width="1.1"/>
<line x1="240.00" y1="228.80" x2="240.00" y2="236.00" stroke="#000" stroke-width="1.3" />
<line x1="236.20" y1="228.80" x2="243.80" y2="228.80" stroke="#000" stroke-width="1.3" />
<line x1="236.20" y1="236.00" x2="243.80" y2="236.00" stroke="#000" stroke-width="1.3" />
<line x1="259.70" y1="179.40" x2="259.70" y2="193.80" stroke="#000" stroke-width="1.3" />
<line x1="255.20" y1="179.40" x2="264.20" y2="179.40" stroke="#000" stroke-width="1.3" />
<line x1="255.20" y1="193.80" x2="264.20" y2="193.80" stroke="#000" stroke-width="1.3" />
<line x1="284.30" y1="215.40" x2="284.30" y2="227.00" stroke="#000" stroke-width="1.3" />
<line x1="280.30" y1="215.40" x2="288.30" y2="215.40" stroke="#000" stroke-width="1.3" />
<line x1="280.30" y1="227.00" x2="288.30" y2="227.00" stroke="#000" stroke-width="1.3" />
<line x1="303.90" y1="205.40" x2="303.90" y2="219.20" stroke="#000" stroke-width="1.3" />
<line x1="299.40" y1="205.40" x2="308.40" y2="205.40" stroke="#000" stroke-width="1.3" />
<line x1="299.40" y1="219.20" x2="308.40" y2="219.20" stroke="#000" stroke-width="1.3" />
<line x1="239.00" y1="156.30" x2="258.60" y2="156.30" stroke="#000" stroke-width="1.0" />
<line x1="262.40" y1="156.30" x2="304.20" y2="156.30" stroke="#000" stroke-width="1.0" />
<line x1="285.20" y1="185.00" x2="304.50" y2="185.00" stroke="#000" stroke-width="1.0" />
<text transform="translate(249.00,153.80) scale(1,1)" font-size="10.600" text-anchor="middle" style="stroke-width:0.3px">***</text>
<text transform="translate(283.00,153.80) scale(1,1)" font-size="10.600" text-anchor="middle" style="stroke-width:0.3px">***</text>
<text transform="translate(295.00,180.00) scale(1.055,1)" font-size="7.773" text-anchor="middle" >ns</text>
<text transform="translate(244.40,253.60) rotate(-45) scale(1.055,1)" font-size="7.820" text-anchor="end">WT</text>
<text transform="translate(265.40,253.20) rotate(-45) scale(1.055,1)" font-size="7.962" text-anchor="end">WT R848</text>
<text transform="translate(289.60,252.40) rotate(-45) scale(1.055,1)" font-size="8.009" text-anchor="end">TNFR1/2-/-</text>
<text transform="translate(309.60,252.40) rotate(-45) scale(1.055,1)" font-size="8.009" text-anchor="end">TNFR1/2-/-</text>
<text transform="translate(303.30,273.20) rotate(-45) scale(1.055,1)" font-size="8.009" text-anchor="end">R848</text>
<text transform="translate(206.2,207.2) rotate(-90) scale(1.055,1)" font-size="7.773" text-anchor="middle">Number of DC (x 10<tspan font-size="5.0" dy="-2.3">5</tspan><tspan dy="2.3" font-size="1">&#8203;</tspan>)</text>
</svg>
</body></html>
